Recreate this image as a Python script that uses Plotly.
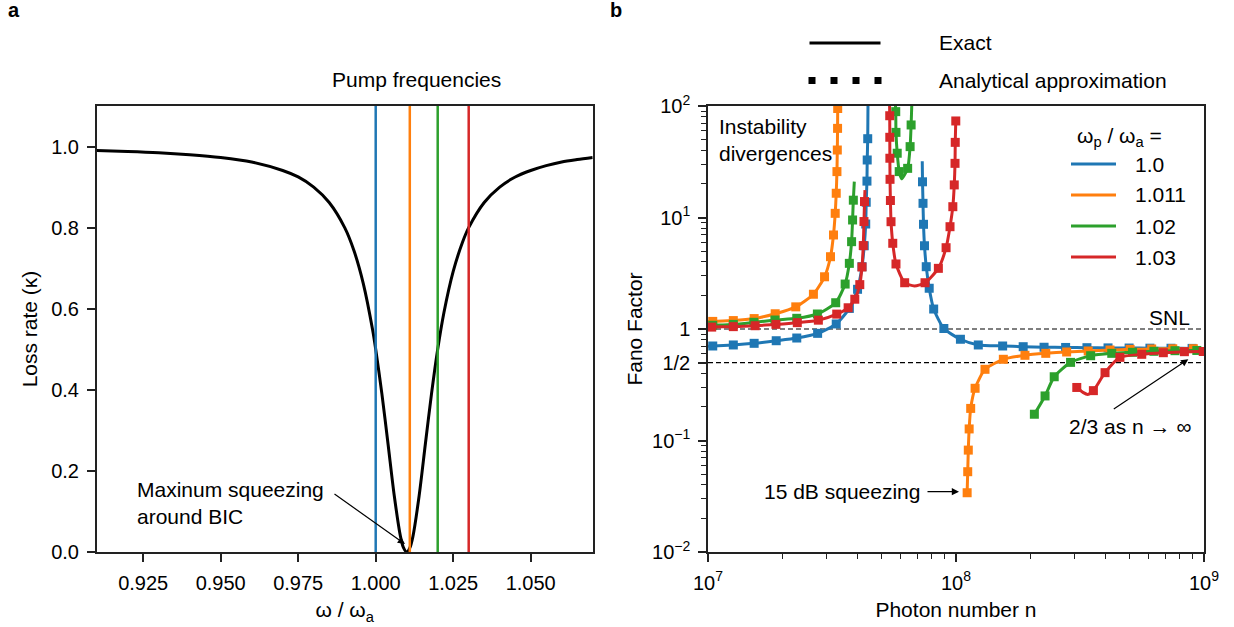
import plotly.graph_objects as go

W, H = 1234, 627
FONT = "Liberation Sans, Arial, Helvetica, sans-serif"

# ---------------- Panel a data ----------------
omega = [0.910, 0.920, 0.930, 0.940, 0.950, 0.960, 0.970, 0.975, 0.980, 0.985,
         0.990, 0.993, 0.996, 0.999, 1.000, 1.002, 1.004, 1.006, 1.008, 1.009,
         1.010, 1.011, 1.012, 1.014, 1.016, 1.018, 1.020, 1.022, 1.025, 1.028,
         1.030, 1.035, 1.040, 1.045, 1.050, 1.055, 1.060, 1.065, 1.070]
kappa = [0.990, 0.988, 0.985, 0.980, 0.973, 0.962, 0.941, 0.925, 0.900, 0.862,
         0.800, 0.743, 0.662, 0.548, 0.500, 0.390, 0.265, 0.138, 0.038, 0.010,
         0.000, 0.010, 0.038, 0.138, 0.265, 0.390, 0.500, 0.590, 0.692, 0.764,
         0.800, 0.862, 0.900, 0.925, 0.941, 0.953, 0.962, 0.968, 0.973]
pump_freqs = [1.0, 1.011, 1.02, 1.03]
pump_labels = ["1.0", "1.011", "1.02", "1.03"]
colors = ["#1f77b4", "#ff7f0e", "#2ca02c", "#d62728"]
a_xticks = [0.925, 0.950, 0.975, 1.000, 1.025, 1.050]
a_yticks = [0.0, 0.2, 0.4, 0.6, 0.8, 1.0]

# ---------------- Panel b data ----------------
# blue, wp/wa = 1.0
blue_L_n = [1.045e7, 1.265e7, 1.535e7, 1.884e7, 2.280e7, 2.767e7, 3.289e7, 3.715e7,
            4.009e7, 4.178e7, 4.266e7, 4.325e7, 4.345e7, 4.375e7, 4.385e7, 4.406e7]
blue_L_F = [0.704, 0.719, 0.744, 0.785, 0.83, 0.914, 1.11, 1.53,
            2.27, 3.62, 5.58, 8.74, 13.7, 21.2, 32.8, 50.9]
blue_L_exact_n = [1.0e7] + blue_L_n + [4.416e7, 4.43e7]
blue_L_exact_F = [0.70] + blue_L_F + [98, 160]

blue_R_n = [7.328e7, 7.362e7, 7.396e7, 7.464e7, 7.586e7, 7.798e7, 8.128e7, 8.933e7,
            1.042e8, 1.230e8, 1.542e8, 1.866e8, 2.265e8, 2.767e8, 3.373e8, 4.102e8,
            4.989e8, 6.053e8, 7.362e8, 8.954e8]
blue_R_F = [20.9, 13.4, 8.69, 5.58, 3.62, 2.32, 1.51, 1.01,
            0.809, 0.719, 0.704, 0.694, 0.686, 0.683, 0.680, 0.677,
            0.675, 0.673, 0.672, 0.670]
blue_R_exact_n = [7.31e7] + blue_R_n + [1.0e9]
blue_R_exact_F = [32] + blue_R_F + [0.669]

# orange, wp/wa = 1.011
orange_L_n = [1.045e7, 1.265e7, 1.535e7, 1.866e7, 2.259e7, 2.661e7, 2.951e7, 3.119e7,
              3.206e7, 3.258e7, 3.289e7, 3.311e7, 3.322e7, 3.330e7, 3.334e7]
orange_L_F = [1.17, 1.19, 1.24, 1.37, 1.58, 2.05, 2.94, 4.45,
              6.97, 10.9, 16.5, 25.8, 40.3, 63, 95]
orange_L_exact_n = [1.0e7] + orange_L_n + [3.337e7]
orange_L_exact_F = [1.165] + orange_L_F + [150]

orange_R_n = [1.109e8, 1.115e8, 1.121e8, 1.130e8, 1.146e8, 1.194e8, 1.309e8, 1.552e8,
              1.897e8, 2.301e8, 2.793e8, 3.412e8, 4.178e8, 5.035e8, 6.152e8, 7.482e8,
              9.057e8]
orange_R_F = [0.034, 0.0525, 0.082, 0.127, 0.194, 0.294, 0.435, 0.535,
              0.581, 0.605, 0.622, 0.635, 0.648, 0.657, 0.662, 0.665, 0.666]
orange_R_exact_n = orange_R_n + [1.0e9]
orange_R_exact_F = orange_R_F + [0.666]

# green, wp/wa = 1.02
green_L_n = [1.045e7, 1.265e7, 1.531e7, 1.862e7, 2.280e7, 2.761e7, 3.273e7, 3.573e7,
             3.715e7, 3.793e7, 3.828e7, 3.855e7]
green_L_F = [1.08, 1.10, 1.148, 1.204, 1.247, 1.363, 1.72, 2.53,
             3.88, 6.07, 9.5, 14.3]
green_L_exact_n = [1.0e7] + green_L_n + [3.890e7]
green_L_exact_F = [1.075] + green_L_F + [21]

green_M_n = [5.715e7, 5.728e7, 5.794e7, 5.902e7, 6.383e7, 6.531e7, 6.592e7]
green_M_F = [89, 58, 37.7, 25.8, 27.6, 43.2, 67.6]
green_M_exact_n = [5.675e7, 5.715e7, 5.728e7, 5.794e7, 5.902e7, 6.04e7, 6.383e7,
                   6.531e7, 6.592e7, 6.653e7]
green_M_exact_F = [125, 89, 58, 37.7, 25.8, 22.2, 27.6, 43.2, 67.6, 125]

green_R_n = [2.070e8, 2.286e8, 2.489e8, 2.897e8, 3.491e8, 4.246e8, 5.152e8, 6.281e8,
             7.638e8, 9.354e8]
green_R_F = [0.172, 0.251, 0.373, 0.502, 0.576, 0.605, 0.618, 0.631, 0.639, 0.642]
green_R_exact_n = green_R_n + [1.0e9]
green_R_exact_F = green_R_F + [0.643]

# red, wp/wa = 1.03
red_L_n = [1.035e7, 1.265e7, 1.549e7, 1.879e7, 2.291e7, 2.786e7, 3.304e7, 3.673e7,
           3.908e7, 4.093e7, 4.178e7, 4.227e7, 4.256e7, 4.276e7]
red_L_F = [1.04, 1.05, 1.07, 1.10, 1.14, 1.20, 1.36, 1.55,
           1.85, 2.5, 3.6, 5.6, 9.2, 13.9]
red_L_exact_n = [1.0e7] + red_L_n + [4.295e7]
red_L_exact_F = [1.035] + red_L_F + [17.6]

red_M_n = [5.405e7, 5.408e7, 5.412e7, 5.420e7, 5.439e7, 5.470e7, 5.559e7, 5.728e7,
           6.209e7, 7.50e7, 8.49e7, 9.12e7, 9.46e7, 9.71e7, 9.84e7, 9.91e7,
           9.93e7, 9.98e7]
red_M_F = [81.8, 52.4, 34, 22, 14.2, 9.17, 5.87, 3.83,
           2.6, 2.6, 3.5, 5.36, 8.27, 12.5, 19.6, 30.6,
           47.2, 73.4]
red_M_exact_n = [5.39e7] + red_M_n[:9] + [6.80e7] + red_M_n[9:]
red_M_exact_F = [130] + red_M_F[:9] + [2.43] + red_M_F[9:]

red_R_n = [3.069e8, 3.581e8, 3.990e8, 4.581e8, 5.610e8, 6.855e8, 8.337e8, 9.93e8]
red_R_F = [0.299, 0.280, 0.406, 0.557, 0.593, 0.613, 0.626, 0.628]
red_R_exact_n = [3.069e8, 3.25e8, 3.40e8] + red_R_n[1:] + [1.0e9]
red_R_exact_F = [0.299, 0.270, 0.259] + red_R_F[1:] + [0.628]

snl_level = 1.0
half_level = 0.5
n_span = [1.0e7, 1.0e9]

b_yticks = [0.01, 0.1, 0.5, 1, 10, 100]
b_yticktext = ["10<sup>−2</sup>", "10<sup>−1</sup>", "1/2", "1", "10<sup>1</sup>", "10<sup>2</sup>"]
b_xticks = [1e7, 1e8, 1e9]
b_xticktext = ["10<sup>7</sup>", "10<sup>8</sup>", "10<sup>9</sup>"]


def px(x):
    return x / W


def py(y):
    return 1 - y / H


fig = go.Figure()

# ---- panel a ----
fig.add_trace(go.Scatter(x=omega, y=kappa, mode="lines",
                         line=dict(color="black", width=3, shape="spline", smoothing=0.8),
                         xaxis="x", yaxis="y", showlegend=False))
for f, c in zip(pump_freqs, colors):
    fig.add_trace(go.Scatter(x=[f, f], y=[0, 1.1], mode="lines",
                             line=dict(color=c, width=2.5),
                             xaxis="x", yaxis="y", showlegend=False))

# ---- panel b ----
for lvl in [snl_level, half_level]:
    fig.add_trace(go.Scatter(x=n_span, y=[lvl, lvl], mode="lines",
                             line=dict(color="black", width=1.2, dash="5px,3px"),
                             xaxis="x2", yaxis="y2", showlegend=False))

series = [
    (colors[0], [(blue_L_exact_n, blue_L_exact_F, blue_L_n, blue_L_F),
                 (blue_R_exact_n, blue_R_exact_F, blue_R_n, blue_R_F)]),
    (colors[1], [(orange_L_exact_n, orange_L_exact_F, orange_L_n, orange_L_F),
                 (orange_R_exact_n, orange_R_exact_F, orange_R_n, orange_R_F)]),
    (colors[2], [(green_L_exact_n, green_L_exact_F, green_L_n, green_L_F),
                 (green_M_exact_n, green_M_exact_F, green_M_n, green_M_F),
                 (green_R_exact_n, green_R_exact_F, green_R_n, green_R_F)]),
    (colors[3], [(red_L_exact_n, red_L_exact_F, red_L_n, red_L_F),
                 (red_M_exact_n, red_M_exact_F, red_M_n, red_M_F),
                 (red_R_exact_n, red_R_exact_F, red_R_n, red_R_F)]),
]
for c, branches in series:
    for en, eF, mn, mF in branches:
        fig.add_trace(go.Scatter(x=en, y=eF, mode="lines",
                                 line=dict(color=c, width=3, shape="spline", smoothing=0.6),
                                 xaxis="x2", yaxis="y2", showlegend=False))
        fig.add_trace(go.Scatter(x=mn, y=mF, mode="markers",
                                 marker=dict(symbol="square", size=9, color=c,
                                             line=dict(width=0)),
                                 xaxis="x2", yaxis="y2", showlegend=False, cliponaxis=True))

axis_common = dict(showline=True, mirror=True, linecolor="#222", linewidth=1.5,
                   ticks="outside", ticklen=8, tickwidth=1.5, tickcolor="#222",
                   showgrid=False, zeroline=False,
                   tickfont=dict(family=FONT, size=20, color="black"),
                   automargin=False)

minor_x = [k * 10 ** e for e in (7, 8) for k in range(2, 10)]
minor_y = [k * 10 ** e for e in (-2, -1, 0, 1) for k in range(2, 10)]
minor_style = dict(tickmode="array", ticks="outside", ticklen=5, tickwidth=1.2,
                   tickcolor="#222", showgrid=False)

fig.update_layout(
    width=W, height=H, margin=dict(l=0, r=0, t=0, b=0),
    paper_bgcolor="white", plot_bgcolor="white",
    font=dict(family=FONT, size=20, color="black"),
    xaxis=dict(domain=[px(96.7), px(592.7)], range=[0.91, 1.07],
               tickvals=a_xticks, ticktext=[f"{v:.3f}" for v in a_xticks],
               title=dict(text="ω / ω<sub>a</sub>", font=dict(size=21), standoff=10),
               anchor="y", ticklabelstandoff=4, **axis_common),
    yaxis=dict(domain=[py(552), py(106)], range=[0, 1.1],
               tickvals=a_yticks, ticktext=[f"{v:.1f}" for v in a_yticks],
               title=dict(text="Loss rate (κ)", font=dict(size=21), standoff=8),
               anchor="x", ticklabelstandoff=4, **axis_common),
    xaxis2=dict(domain=[px(708), px(1204)], type="log", range=[7, 9],
                tickvals=b_xticks, ticktext=b_xticktext,
                minor=dict(tickvals=minor_x, **minor_style),
                title=dict(text="Photon number n", font=dict(size=21), standoff=10),
                anchor="y2", ticklabelstandoff=4, **axis_common),
    yaxis2=dict(domain=[py(552), py(106)], type="log", range=[-2, 2],
                tickvals=b_yticks, ticktext=b_yticktext,
                minor=dict(tickvals=minor_y, **minor_style),
                title=dict(text="Fano Factor", font=dict(size=21), standoff=4),
                anchor="x2", ticklabelstandoff=4, **axis_common),
)

ann = []


def text(x, y, s, xanchor="left", size=21, bold=False):
    ann.append(dict(x=px(x), y=py(y), xref="paper", yref="paper", text=(f"<b>{s}</b>" if bold else s),
                    showarrow=False, xanchor=xanchor, yanchor="middle", align="left",
                    font=dict(family=FONT, size=size, color="black")))


def arrow(hx, hy, tx, ty):
    ann.append(dict(x=px(hx), y=py(hy), xref="paper", yref="paper", text="",
                    showarrow=True, ax=tx - hx, ay=ty - hy, arrowhead=2, arrowsize=1.2,
                    arrowwidth=1.2, arrowcolor="black"))


text(6, 10, "a", size=20, bold=True)
text(608, 10, "b", size=20, bold=True)
text(416.7, 80, "Pump frequencies", xanchor="center")
text(135, 503.5, "Maxinum squeezing<br>around BIC")
arrow(405, 544, 333, 493)
text(717, 140, "Instability<br>divergences")
text(1192, 317, "SNL", xanchor="right")
text(761.7, 491.7, "15 dB squeezing")
arrow(959, 491.7, 926, 491.7)
text(1066.7, 426.7, "2/3 as n → ∞")
arrow(1188.3, 359.3, 1112.3, 410)

# top legend
text(937, 43, "Exact")
text(937, 80.5, "Analytical approximation")
# colour legend
text(1075, 137, "ω<sub>p</sub> / ω<sub>a</sub> =")
legend_rows = [164, 195, 226, 257]
for lbl, yy in zip(pump_labels, legend_rows):
    text(1133, yy, lbl)

shapes = [
    dict(type="line", xref="paper", yref="paper", x0=px(809.5), x1=px(880.5),
         y0=py(43), y1=py(43), line=dict(color="black", width=3)),
    dict(type="line", xref="paper", yref="paper", x0=px(808.5), x1=px(881.5),
         y0=py(80.5), y1=py(80.5), line=dict(color="black", width=7, dash="7px,15px")),
]
for c, yy in zip(colors, legend_rows):
    shapes.append(dict(type="line", xref="paper", yref="paper", x0=px(1071), x1=px(1116),
                       y0=py(yy), y1=py(yy), line=dict(color=c, width=3)))

fig.update_layout(annotations=ann, shapes=shapes)
fig.write_html("out.html")
